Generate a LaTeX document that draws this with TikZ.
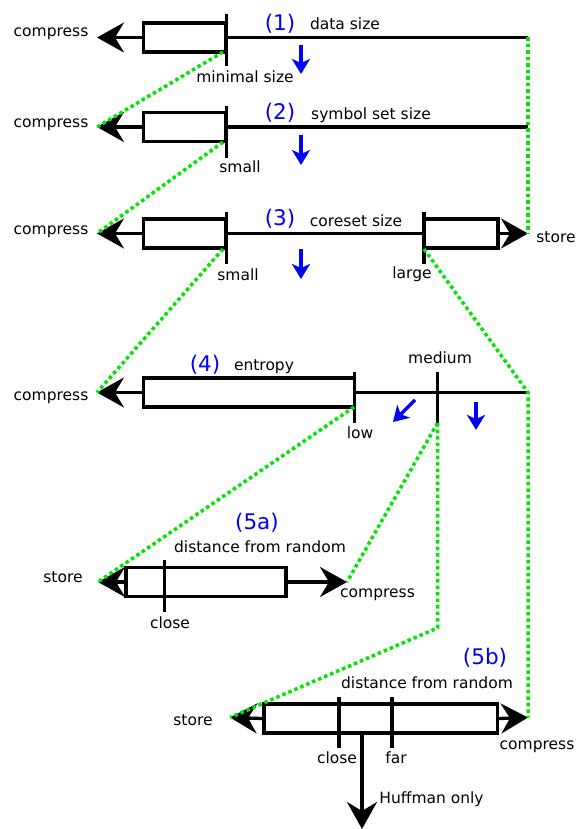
\documentclass[tikz,border=0pt]{standalone}
\usepackage{fontspec}
\setmainfont{DejaVu Sans}
\usetikzlibrary{arrows.meta}
\definecolor{dotgreen}{RGB}{0,230,0}
\begin{document}
\begin{tikzpicture}[x=1pt,y=-1pt,
  blk/.style={line width=3.3pt, draw=black},
  bigarrow/.style={blk,-{Stealth[length=27pt,width=30pt,inset=9pt]}},
  boxn/.style={blk, fill=white, rectangle, inner sep=0pt, minimum height=29pt},
  tickline/.style={blk},
  greendots/.style={draw=dotgreen, line width=3.5pt, dash pattern=on 3.5pt off 3pt},
  bluearr/.style={draw=blue, line width=3.3pt, -{Stealth[length=15pt,width=18pt,inset=4pt]}},
  lbl/.style={anchor=base, inner sep=0pt, font=\fontsize{15.5}{18}\selectfont},
  num/.style={anchor=base, inner sep=0pt, text=blue, font=\fontsize{21.5}{24}\selectfont}]
\useasboundingbox (0,0) rectangle (576,829);

% ---------- Row 1 ----------
\coordinate (t1) at (97,37.5);
\coordinate (e1) at (528,37.5);
\coordinate (k1a) at (226.5,14);
\coordinate (k1b) at (226.5,66);
\coordinate (k1m) at (226.5,37.5);
\draw[bigarrow] (k1m) -- (t1);
\node[boxn, minimum width=82.5pt] (bx1) at (184.75,37.5) {};
\draw[tickline] (k1a) -- (k1b);
\draw[blk] (k1m) -- (e1);
\node[lbl] (c1) at (51,37) {compress};
\node[lbl] (ms1) at (245,83) {minimal size};
\node[num] (n1) at (280,31) {(1)};
\node[lbl] (d1) at (345,30) {data size};
\coordinate (ba1) at (301,45);
\coordinate (bb1) at (301,74);
\draw[bluearr] (ba1) -- (bb1);

% ---------- Row 2 ----------
\coordinate (t2) at (97,127);
\coordinate (e2) at (528,127);
\coordinate (k2a) at (226.5,106);
\coordinate (k2b) at (226.5,158);
\coordinate (k2m) at (226.5,127);
\draw[bigarrow] (k2m) -- (t2);
\node[boxn, minimum width=82.5pt] (bx2) at (184.75,127) {};
\draw[tickline] (k2a) -- (k2b);
\draw[blk] (k2m) -- (e2);
\node[lbl] (c2) at (51,128) {compress};
\node[lbl] (s2) at (240,173) {small};
\node[num] (n2) at (280,120) {(2)};
\node[lbl] (d2) at (371,120) {symbol set size};
\coordinate (ba2) at (301,135);
\coordinate (bb2) at (301,165);
\draw[bluearr] (ba2) -- (bb2);

% ---------- Row 3 ----------
\coordinate (t3) at (97,233.5);
\coordinate (t3r) at (528,233.5);
\coordinate (k3a) at (226.5,212);
\coordinate (k3b) at (226.5,264);
\coordinate (k3m) at (226.5,233.5);
\coordinate (q3a) at (424,212);
\coordinate (q3b) at (424,264);
\coordinate (q3m) at (424,233.5);
\draw[bigarrow] (k3m) -- (t3);
\node[boxn, minimum width=82.5pt] (bx3) at (184.75,233.5) {};
\draw[bigarrow] (q3m) -- (t3r);
\node[boxn, minimum width=74pt] (bx3r) at (461,233.5) {};
\draw[tickline] (k3a) -- (k3b);
\draw[tickline] (q3a) -- (q3b);
\draw[blk] (k3m) -- (q3m);
\node[lbl] (c3) at (51,234) {compress};
\node[lbl] (s3) at (238,280) {small};
\node[lbl] (l3) at (412,278) {large};
\node[lbl] (st3) at (556,242) {store};
\node[num] (n3) at (280,225) {(3)};
\node[lbl] (d3) at (356,226) {coreset size};
\coordinate (ba3) at (301,249);
\coordinate (bb3) at (301,279);
\draw[bluearr] (ba3) -- (bb3);

% ---------- Row 4 ----------
\coordinate (t4) at (97,392.5);
\coordinate (e4) at (528,392.5);
\coordinate (k4a) at (354.5,372);
\coordinate (k4b) at (354.5,423);
\coordinate (k4m) at (354.5,392.5);
\coordinate (m4a) at (437.5,372);
\coordinate (m4b) at (437.5,423);
\draw[bigarrow] (k4m) -- (t4);
\node[boxn, minimum width=211pt] (bx4) at (249,392.5) {};
\draw[tickline] (k4a) -- (k4b);
\draw[tickline] (m4a) -- (m4b);
\draw[blk] (k4m) -- (e4);
\node[lbl] (c4) at (51,400) {compress};
\node[lbl] (lo4) at (360,438) {low};
\node[lbl] (me4) at (440,363) {medium};
\node[num] (n4) at (205,371) {(4)};
\node[lbl] (d4) at (264,370) {entropy};
\coordinate (ba4) at (415,400);
\coordinate (bb4) at (393,422);
\draw[bluearr] (ba4) -- (bb4);
\coordinate (bc4) at (476,402);
\coordinate (bd4) at (476,430);
\draw[bluearr] (bc4) -- (bd4);

% ---------- Row 5a ----------
\coordinate (t5l) at (98,582);
\coordinate (t5r) at (347,582);
\node[boxn, minimum width=160pt, minimum height=29pt] (bx5) at (206,582) {};
\draw[bigarrow] (bx5.west) -- (t5l);
\draw[bigarrow] (bx5.east) -- (t5r);
\coordinate (k5a) at (164.5,560);
\coordinate (k5b) at (164.5,612);
\draw[tickline] (k5a) -- (k5b);
\node[lbl] (st5) at (63,582) {store};
\node[lbl] (c5) at (377.5,597) {compress};
\node[lbl] (cl5) at (170,628) {close};
\node[num] (n5) at (257,529) {(5a)};
\node[lbl] (d5) at (260,552) {distance from random};

% ---------- Row 5b ----------
\coordinate (t6l) at (230,717.5);
\coordinate (t6r) at (528,717.5);
\node[boxn, minimum width=233.5pt] (bx6) at (380.75,718.5) {};
\draw[bigarrow] (bx6.west) -- (t6l);
\draw[bigarrow] (bx6.east) -- (t6r);
\coordinate (k6a) at (339,697);
\coordinate (k6b) at (339,748);
\coordinate (f6a) at (392,697);
\coordinate (f6b) at (392,748);
\draw[tickline] (k6a) -- (k6b);
\draw[tickline] (f6a) -- (f6b);
\coordinate (h6a) at (362,733);
\coordinate (h6b) at (362,829);
\draw[bigarrow] (h6a) -- (h6b);
\node[lbl] (st6) at (193,725) {store};
\node[lbl] (c6) at (537,749) {compress};
\node[lbl] (cl6) at (337,763) {close};
\node[lbl] (fa6) at (396,763) {far};
\node[num] (n6) at (485,664) {(5b)};
\node[lbl] (d6) at (427,688) {distance from random};
\node[lbl] (hu6) at (431.5,803) {Huffman only};

% ---------- green dotted connectors ----------
\coordinate (g1) at (223,52);
\coordinate (g2) at (223,142);
\coordinate (g3) at (223,249);
\coordinate (g5) at (424,249);
\coordinate (g6) at (354,407);
\coordinate (g7) at (437.5,423);
\coordinate (g8) at (437.5,628);
\draw[greendots] (g1) -- (t2);
\draw[greendots] (g2) -- (t3);
\draw[greendots] (g3) -- (t4);
\draw[greendots] (e1) -- (t3r);
\draw[greendots] (g5) -- (e4) -- (t6r);
\draw[greendots] (g6) -- (t5l);
\draw[greendots] (g7) -- (t5r);
\draw[greendots] (g7) -- (g8) -- (t6l);
\end{tikzpicture}
\end{document}
